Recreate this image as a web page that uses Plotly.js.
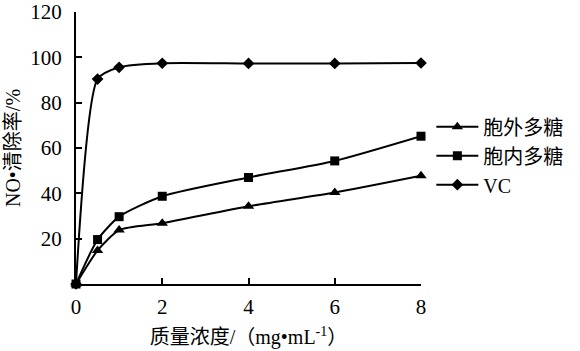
<!DOCTYPE html>
<html><head><meta charset="utf-8">
<script src="https://cdn.plot.ly/plotly-3.0.1.min.js"></script>
<style>body{margin:0;background:#fff}#c{width:580px;height:351px}</style>
</head><body><div id="c"></div>
<script>
const xVals = [0, 0.5, 1, 2, 4, 6, 8];
const extracellular = [0, 14.8, 23.8, 26.8, 34.3, 40.4, 47.8];
const intracellular = [0, 19.6, 29.7, 38.7, 47.0, 54.3, 65.2];
const vc = [0, 90.4, 95.6, 97.4, 97.3, 97.3, 97.5];
const seriesNames = ['胞外多糖', '胞内多糖', 'VC'];
const xTicks = [0, 2, 4, 6, 8];
const yTicks = [20, 40, 60, 80, 100, 120];

const serif = '"Liberation Serif", "Times New Roman", "Noto Sans CJK SC", serif';
const mk = (y, name, sym, size) => ({
  x: xVals, y: y, name: name, type: 'scatter', mode: 'lines+markers',
  cliponaxis: false,
  line: {color: '#000', width: 2, shape: 'spline', smoothing: 0.6},
  marker: {symbol: sym, size: size, color: '#000'}
});
const data = [
  mk(extracellular, seriesNames[0], 'triangle-up', 10),
  mk(intracellular, seriesNames[1], 'square', 9),
  mk(vc, seriesNames[2], 'diamond', 9)
];
const layout = {
  width: 580, height: 351,
  margin: {l: 76, r: 150, t: 12, b: 67},
  paper_bgcolor: '#fff', plot_bgcolor: '#fff',
  font: {family: serif, size: 20, color: '#000'},
  showlegend: true,
  legend: {x: 1.03, y: 0.65, xanchor: 'left', yanchor: 'top',
    font: {family: serif, size: 20}, tracegroupgap: 0, itemwidth: 42,
    bgcolor: 'rgba(0,0,0,0)'},
  xaxis: {range: [0, 8], tickvals: xTicks, ticktext: xTicks.map(String),
    ticks: 'inside', ticklen: 6, tickwidth: 2, tickcolor: '#000',
    showline: true, linewidth: 2, linecolor: '#000', showgrid: false, zeroline: false,
    tickfont: {size: 21}, ticklabeloverflow: 'allow', ticklabelstandoff: 3,
    title: {text: '质量浓度/（mg•mL<sup>-1</sup>）', font: {size: 20}, standoff: 12}},
  yaxis: {range: [0, 120], tickvals: yTicks, ticktext: yTicks.map(String),
    ticks: 'inside', ticklen: 6, tickwidth: 2, tickcolor: '#000',
    showline: true, linewidth: 2, linecolor: '#000', showgrid: false, zeroline: false,
    tickfont: {size: 21}, ticklabeloverflow: 'allow', ticklabelstandoff: 8,
    title: {text: 'NO•清除率/%', font: {size: 20}, standoff: 4}}
};
Plotly.newPlot('c', data, layout, {displayModeBar: false, staticPlot: true});
</script></body></html>
